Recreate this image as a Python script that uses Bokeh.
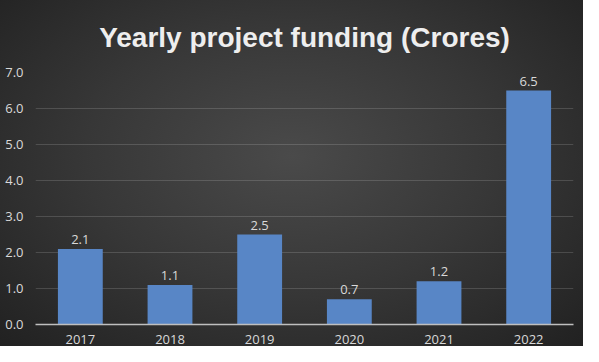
from bokeh.plotting import figure
from bokeh.models import ColumnDataSource, LabelSet, NumeralTickFormatter, FactorRange
from bokeh.core.properties import value
from bokeh.embed import file_html
from bokeh.resources import INLINE

years = ["2017", "2018", "2019", "2020", "2021", "2022"]
funding = [2.1, 1.1, 2.5, 0.7, 1.2, 6.5]
labels = ["2.1", "1.1", "2.5", "0.7", "1.2", "6.5"]
y_ticks = [0, 1, 2, 3, 4, 5, 6, 7]

src = ColumnDataSource(dict(year=years, value=funding, label=labels))

p = figure(x_range=FactorRange(*years, range_padding=0), y_range=(0, 7),
           width=583, height=346, output_backend="svg", toolbar_location=None,
           title="Yearly project funding (Crores)",
           min_border_left=35, min_border_right=10, min_border_top=72, min_border_bottom=22)

p.styles = {"background": "radial-gradient(ellipse at 50% 45%, #4a4a4a 0%, #373737 50%, #212121 100%)"}
p.background_fill_alpha = 0
p.border_fill_alpha = 0
p.outline_line_color = None

p.title.text_font = "Liberation Sans"
p.title.text_font_size = "28px"
p.title.text_font_style = "bold"
p.title.text_color = "#eeeeee"
p.title.align = "center"
p.title.text_line_height = 0.7
p.title.standoff = 39

p.vbar(x="year", top="value", width=0.5, source=src, fill_color="#5886c6", line_color=None)

p.add_layout(LabelSet(x="year", y="value", text="label", source=src, y_offset=5,
                      text_align="center", text_baseline="bottom",
                      text_font=value("Open Sans"), text_font_size="13px", text_color="#d9d9d9"))

p.yaxis.ticker = y_ticks
p.yaxis.formatter = NumeralTickFormatter(format="0.0")
p.yaxis.axis_line_color = None
p.yaxis.major_tick_line_color = None
p.yaxis.minor_tick_line_color = None
p.yaxis.major_label_text_font = "Open Sans"
p.yaxis.major_label_text_font_size = "13px"
p.yaxis.major_label_text_color = "#d9d9d9"
p.yaxis.major_label_standoff = 6

p.xaxis.axis_line_color = "#bfbfbf"
p.xaxis.axis_line_width = 1.5
p.xaxis.major_tick_line_color = None
p.xaxis.minor_tick_line_color = None
p.xaxis.major_label_text_font = "Open Sans"
p.xaxis.major_label_text_font_size = "13px"
p.xaxis.major_label_text_color = "#d9d9d9"
p.xaxis.major_label_standoff = 4

p.xgrid.grid_line_color = None
p.ygrid.grid_line_color = "#ffffff"
p.ygrid.grid_line_alpha = 0.15

open("out.html", "w").write(file_html(p, INLINE))
